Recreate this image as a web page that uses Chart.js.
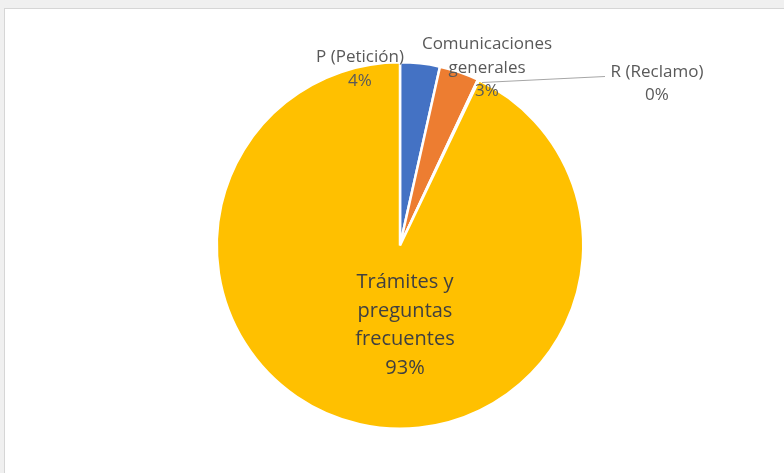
<!DOCTYPE html>
<html>
<head>
<meta charset="utf-8">
<script src="https://cdn.jsdelivr.net/npm/chart.js@4/dist/chart.umd.min.js"></script>
<style>
  html, body { margin: 0; padding: 0; }
  body { width: 784px; height: 473px; background: #f0f0f0; position: relative; overflow: hidden; }
  #frame { position: absolute; left: 4px; top: 8px; width: 779px; height: 464px; background: #fff; border: 1px solid #d6d6d6; }
  #chart { display: block; }
</style>
</head>
<body>
<div id="frame"><canvas id="chart" width="779" height="464"></canvas></div>
<script>
const categories = ["P (Petición)", "Comunicaciones generales", "R (Reclamo)", "Trámites y preguntas frecuentes"];
const shares = [3.5, 3.49, 0.1, 92.91];
const colors = ["#4472C4", "#ED7D31", "#A5A5A5", "#FFC000"];

// label lines and offsets from the pie centre (Excel-style placed labels)
const labelLines = [
  ["P (Petición)"],
  ["Comunicaciones", "generales"],
  ["R (Reclamo)"],
  ["Trámites y", "preguntas", "frecuentes"]
];
const labelPos = [
  { dx: -40, dy: -188, step: 24 },
  { dx: 87, dy: -201, step: 23.5 },
  { dx: 257, dy: -173, step: 23 },
  { dx: 5, dy: 37, step: 28.5 }
];

const FONT = "'Open Sans', sans-serif";

const pieLabels = {
  id: "pieLabels",
  afterDraw(chart) {
    const ctx = chart.ctx;
    const meta = chart.getDatasetMeta(0);
    const cx = meta.data[0].x;
    const cy = meta.data[0].y;
    const total = shares.reduce((a, b) => a + b, 0);

    // leader line for the tiny R slice
    ctx.save();
    ctx.strokeStyle = "#a6a6a6";
    ctx.lineWidth = 1.2;
    ctx.beginPath();
    ctx.moveTo(cx + 82, cy - 163);
    ctx.lineTo(cx + 205, cy - 169);
    ctx.stroke();

    ctx.textAlign = "center";
    ctx.textBaseline = "middle";
    labelLines.forEach((lines, i) => {
      const p = labelPos[i];
      const inside = i === 3;
      ctx.font = (inside ? "20px " : "17px ") + FONT;
      ctx.fillStyle = inside ? "#404040" : "#595959";
      const pct = Math.round(shares[i] / total * 100) + "%";
      lines.concat([pct]).forEach((t, k) => {
        ctx.fillText(t, cx + p.dx, cy + p.dy + k * p.step);
      });
    });
    ctx.restore();
  }
};

new Chart(document.getElementById("chart"), {
  type: "pie",
  data: {
    labels: categories,
    datasets: [{
      data: shares,
      backgroundColor: colors,
      borderColor: "#ffffff",
      borderWidth: 2.5
    }]
  },
  options: {
    responsive: false,
    animation: false,
    layout: { padding: { top: 52, bottom: 43, left: 98, right: 87 } },
    plugins: {
      legend: { display: false },
      tooltip: { enabled: false }
    }
  },
  plugins: [pieLabels]
});
</script>
</body>
</html>
